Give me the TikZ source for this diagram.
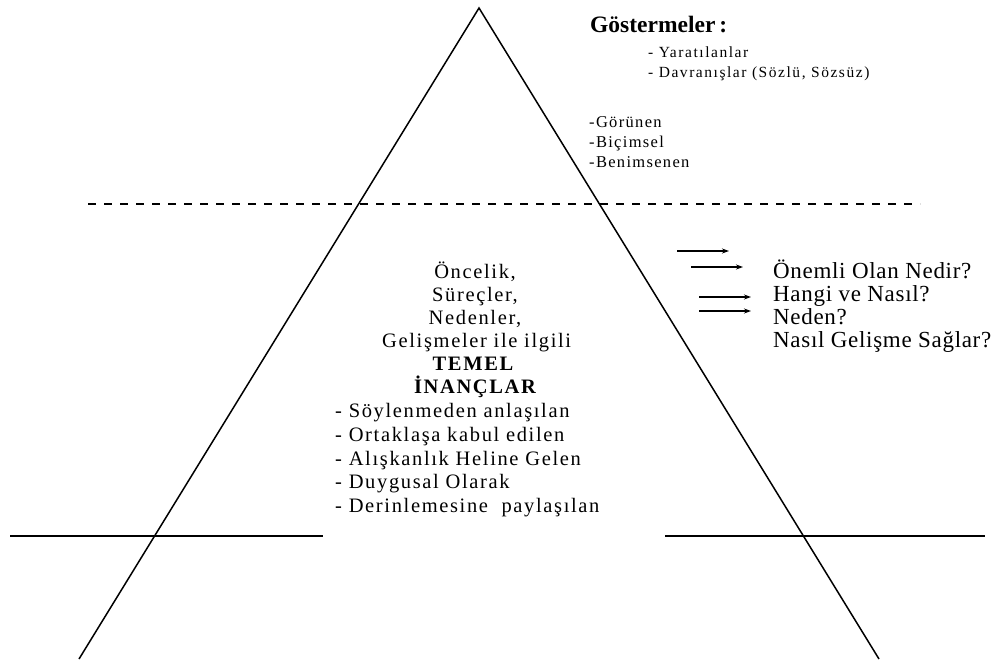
\documentclass[tikz,border=0pt]{standalone}
\usepackage{fontspec}
\setmainfont{Liberation Serif}
\newfontfamily\widefont[LetterSpace=8]{Liberation Serif}
\newfontfamily\smallwide[LetterSpace=10]{Liberation Serif}
\newfontfamily\qfont[LetterSpace=3]{Liberation Serif}
\usetikzlibrary{arrows.meta}
\begin{document}
\begin{tikzpicture}[x=1pt,y=-1pt,
  edge/.style={line width=1.5pt},
  arr/.style={line width=1.5pt,-{Stealth[length=7pt,width=5pt]}},
  ctext/.style={anchor=base,inner sep=0pt,font=\widefont\fontsize{20.5}{24}\selectfont},
  ltext/.style={anchor=base west,inner sep=0pt,font=\widefont\fontsize{20.5}{24}\selectfont},
  rtext/.style={anchor=base west,inner sep=0pt,font=\qfont\fontsize{23}{26}\selectfont},
  stext/.style={anchor=base west,inner sep=0pt,font=\smallwide\fontsize{15.5}{18}\selectfont},
  vtext/.style={anchor=base west,inner sep=0pt,font=\widefont\fontsize{16.5}{19}\selectfont}]
\useasboundingbox (0,0) rectangle (1000,659);
% pyramid
\coordinate (apex) at (479,8);
\coordinate (bl) at (79,659);
\coordinate (br) at (879,659);
\draw[edge,line join=miter] (bl) -- (apex) -- (br);
% dashed boundary between visible and hidden layers
\coordinate (d1) at (88,204);
\coordinate (d2) at (920,204);
\draw[line width=2pt,dash pattern=on 8pt off 8pt] (d1) -- (d2);
% base level lines
\coordinate (h1) at (10,536);
\coordinate (h2) at (323,536);
\coordinate (h3) at (665,536);
\coordinate (h4) at (985,536);
\draw[edge] (h1) -- (h2);
\draw[edge] (h3) -- (h4);
% top labels
\node[anchor=base west,inner sep=0pt,font=\fontsize{23.5}{26}\selectfont\bfseries] (gos) at (590,32) {Göstermeler\,:};
\node[stext] (g1) at (648,57) {- Yaratılanlar};
\node[stext] (g2) at (648,77) {- Davranışlar (Sözlü, Sözsüz)};
\node[vtext] (v1) at (589,127) {-Görünen};
\node[vtext] (v2) at (589,147) {-Biçimsel};
\node[vtext] (v3) at (589,167) {-Benimsenen};
% core beliefs
\node[ctext] (c1) at (475,278) {Öncelik,};
\node[ctext] (c2) at (475,301) {Süreçler,};
\node[ctext] (c3) at (475,324) {Nedenler,};
\node[ltext] (c4) at (382,347) {Gelişmeler ile ilgili};
\node[ctext,font=\widefont\fontsize{20.5}{24}\selectfont\bfseries] (c5) at (473,370) {TEMEL};
\node[ctext,font=\widefont\fontsize{20.5}{24}\selectfont\bfseries] (c6) at (475,393) {İNANÇLAR};
\node[ltext] (l1) at (335,417) {- Söylenmeden anlaşılan};
\node[ltext] (l2) at (335,441) {- Ortaklaşa kabul edilen};
\node[ltext] (l3) at (335,465) {- Alışkanlık Heline Gelen};
\node[ltext] (l4) at (335,488) {- Duygusal Olarak};
\node[ltext] (l5) at (335,512) {- Derinlemesine\ \ paylaşılan};
% questions
\node[rtext] (q1) at (773,278) {Önemli Olan Nedir?};
\node[rtext] (q2) at (773,301) {Hangi ve Nasıl?};
\node[rtext] (q3) at (773,324) {Neden?};
\node[rtext] (q4) at (773,347) {Nasıl Gelişme Sağlar?};
% arrows
\coordinate (a1s) at (677,251); \coordinate (a1e) at (729,251);
\coordinate (a2s) at (691,267); \coordinate (a2e) at (743,267);
\coordinate (a3s) at (699,297); \coordinate (a3e) at (751,297);
\coordinate (a4s) at (699,311); \coordinate (a4e) at (751,311);
\draw[arr] (a1s) -- (a1e);
\draw[arr] (a2s) -- (a2e);
\draw[arr] (a3s) -- (a3e);
\draw[arr] (a4s) -- (a4e);
\end{tikzpicture}
\end{document}
